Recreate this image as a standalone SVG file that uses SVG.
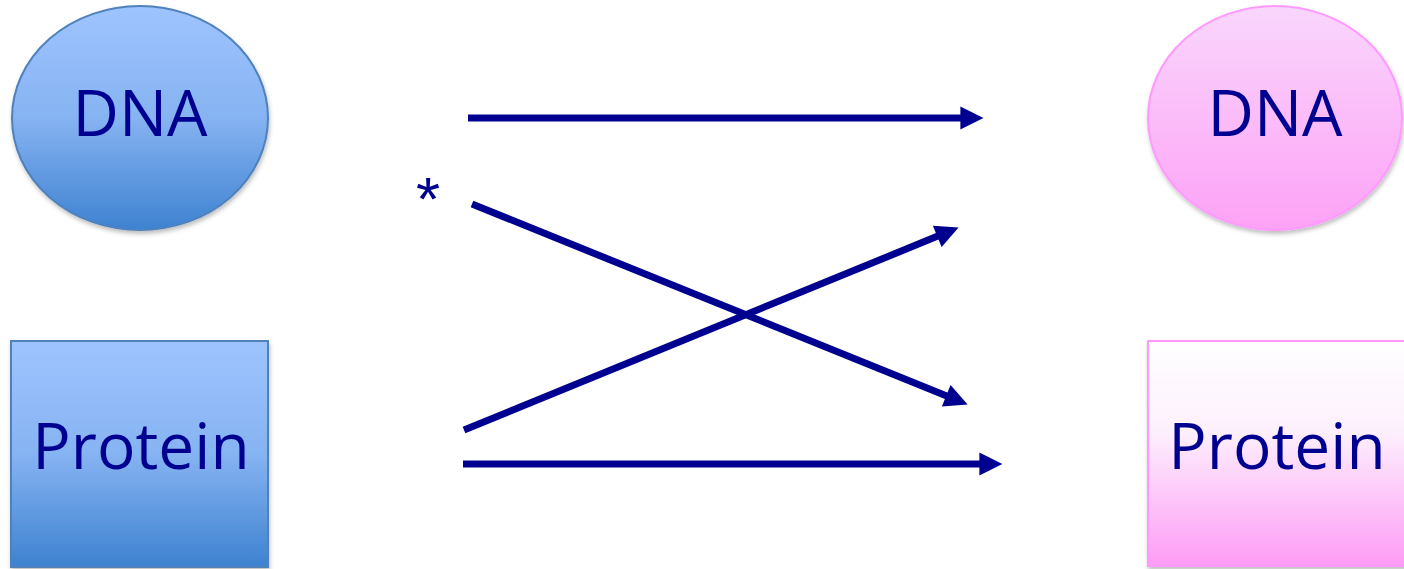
<svg xmlns="http://www.w3.org/2000/svg" width="1404" height="569" viewBox="0 0 1404 569">
<style>
.lbl{font-family:"Open Sans","Liberation Sans",sans-serif;fill:#000090;text-anchor:middle}
.big{font-size:64px}
.ast{font-family:"Liberation Sans",sans-serif;font-size:62px;fill:#000090;text-anchor:middle}
.con{stroke:#000090;stroke-width:7;fill:none;marker-end:url(#ah)}
.blue{stroke:#4F81BD;stroke-width:2}
.pink{stroke:#FF99FF;stroke-width:2}
</style>
<defs>
<linearGradient id="gb" x1="0" y1="0" x2="0" y2="1">
<stop offset="0" stop-color="#9EC4FE"/><stop offset="0.5" stop-color="#86B3F2"/><stop offset="1" stop-color="#3E82D0"/>
</linearGradient>
<linearGradient id="gp" x1="0" y1="0" x2="0" y2="1">
<stop offset="0" stop-color="#F9D6FC"/><stop offset="1" stop-color="#FDA2F6"/>
</linearGradient>
<linearGradient id="gp2" x1="0" y1="0" x2="0" y2="1">
<stop offset="0" stop-color="#FFFFFF"/><stop offset="0.4" stop-color="#FDF0FD"/><stop offset="1" stop-color="#FD9CF5"/>
</linearGradient>
<filter id="sh" x="-10%" y="-10%" width="120%" height="120%">
<feDropShadow dx="1" dy="3" stdDeviation="2" flood-color="#000" flood-opacity="0.25"/>
</filter>
<marker id="ah" viewBox="0 0 10 10" refX="2" refY="5" markerWidth="3.6" markerHeight="3.3" orient="auto" markerUnits="strokeWidth">
<path d="M0,0 L10,5 L0,10 z" fill="#000090"/>
</marker>
</defs>
<g id="dna-left">
<ellipse cx="140" cy="118" rx="128" ry="112" fill="url(#gb)" class="blue" filter="url(#sh)"/>
<text x="140" y="136" class="lbl big">DNA</text>
</g>
<g id="protein-left">
<rect x="11" y="341" width="257" height="226" fill="url(#gb)" class="blue" filter="url(#sh)"/>
<text x="141" y="469" class="lbl big">Protein</text>
</g>
<g id="dna-right">
<ellipse cx="1275" cy="118" rx="127" ry="112" fill="url(#gp)" class="pink" filter="url(#sh)"/>
<text x="1275" y="136" class="lbl big">DNA</text>
</g>
<g id="protein-right">
<rect x="1148" y="341" width="260" height="225" fill="url(#gp2)" class="pink" filter="url(#sh)"/>
<text x="1277" y="469" class="lbl big">Protein</text>
</g>
<g id="star">
<text x="428" y="220" class="ast">*</text>
</g>
<g id="connectors">
<line x1="468" y1="118" x2="965" y2="118" class="con"/>
<line x1="472" y1="204" x2="950.5" y2="397.5" class="con"/>
<line x1="464" y1="430" x2="941.5" y2="234.6" class="con"/>
<line x1="463" y1="464" x2="984" y2="464" class="con"/>
</g>
</svg>
